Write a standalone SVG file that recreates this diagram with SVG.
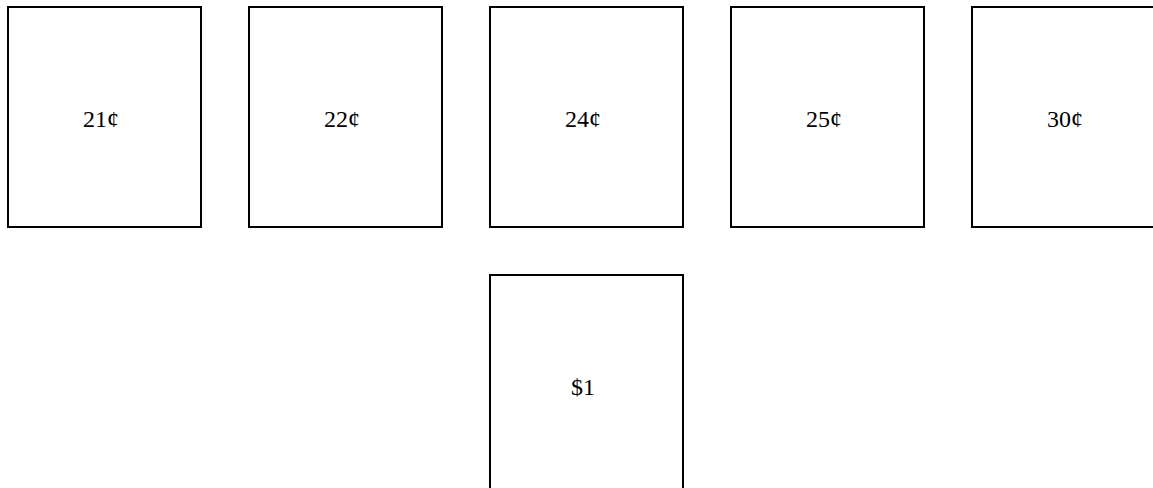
<svg xmlns="http://www.w3.org/2000/svg" width="1153" height="488" viewBox="0 0 1153 488">
<style>
.box{fill:#fff;stroke:#000;stroke-width:2}
.lbl{font-family:"Liberation Serif",serif;font-size:24px;fill:#000;text-anchor:middle}
</style>
<rect width="1153" height="488" fill="#fff"/>
<g id="c21"><rect class="box" x="8" y="7" width="193" height="220"/><text class="lbl" x="101" y="127">21¢</text></g>
<g id="c22"><rect class="box" x="249" y="7" width="193" height="220"/><text class="lbl" x="342" y="127">22¢</text></g>
<g id="c24"><rect class="box" x="490" y="7" width="193" height="220"/><text class="lbl" x="583" y="127">24¢</text></g>
<g id="c25"><rect class="box" x="731" y="7" width="193" height="220"/><text class="lbl" x="824" y="127">25¢</text></g>
<g id="c30"><rect class="box" x="972" y="7" width="193" height="220"/><text class="lbl" x="1065" y="127">30¢</text></g>
<g id="d1"><rect class="box" x="490" y="275" width="193" height="220"/><text class="lbl" x="583" y="395">$1</text></g>
<g id="connectors"></g>
</svg>
